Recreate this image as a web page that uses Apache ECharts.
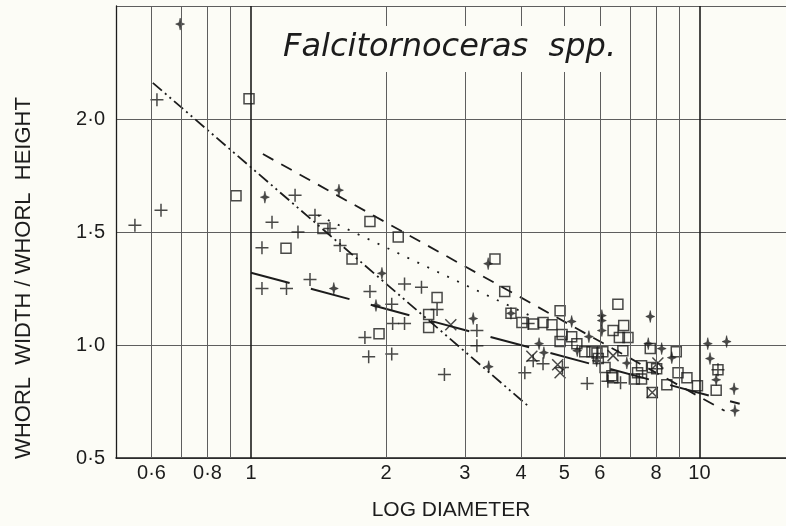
<!DOCTYPE html>
<html>
<head>
<meta charset="utf-8">
<script src="https://cdn.jsdelivr.net/npm/echarts@6/dist/echarts.min.js"></script>
<style>
  html, body { margin: 0; padding: 0; background: #fcfcf6; }
  #chart { width: 786px; height: 526px; }
</style>
</head>
<body>
<div id="chart"></div>
<script>
// vertical grid lines on the log axis, and the labels under them
var gridX = [0.6, 0.7, 0.8, 0.9, 1, 2, 3, 4, 5, 6, 7, 8, 9, 10]
var gridXText = ['0·6', '', '0·8', '', '1', '2', '3', '4', '5', '6', '', '8', '', '10']

// measured points [diameter, width/height]
var plusPts = [
  [0.617, 2.085], [0.63, 1.596], [0.551, 1.53], [1.254, 1.663], [1.114, 1.543],
  [1.273, 1.5], [1.058, 1.43], [1.389, 1.574], [1.5, 1.516], [1.58, 1.44],
  [1.354, 1.29], [1.058, 1.25], [1.2, 1.25], [1.842, 1.237], [2.06, 1.18],
  [1.795, 1.033], [1.83, 0.948], [2.2, 1.27], [2.4, 1.255], [2.6, 1.157],
  [2.07, 1.095], [2.2, 1.095], [2.06, 0.96], [2.7, 0.87], [3.19, 1.064],
  [3.19, 0.997], [4.15, 1.095], [4.26, 0.93], [4.48, 0.917], [4.08, 0.877],
  [4.95, 0.9], [5.62, 0.83], [6.25, 0.84], [6.67, 0.833], [8.03, 0.895],
  [11.0, 0.89]
]
var squarePts = [
  [0.99, 2.09], [0.926, 1.66], [1.197, 1.428], [1.447, 1.516], [1.842, 1.547],
  [2.13, 1.478], [1.68, 1.38], [1.93, 1.05], [2.6, 1.21], [2.49, 1.135],
  [2.49, 1.077], [3.5, 1.38], [3.68, 1.237], [3.8, 1.14], [4.02, 1.1],
  [4.27, 1.093], [4.48, 1.1], [4.69, 1.09], [4.89, 1.152], [4.94, 1.046],
  [5.19, 1.037], [5.33, 1.006], [4.89, 1.015], [5.55, 0.97], [5.76, 0.97],
  [5.91, 0.965], [6.09, 0.97], [5.95, 0.94], [6.16, 0.9], [6.41, 0.855],
  [6.38, 0.864], [6.58, 1.18], [6.42, 1.064], [6.78, 1.086], [6.63, 1.033],
  [6.93, 1.033], [6.75, 0.975], [7.77, 0.984], [8.88, 0.97], [7.43, 0.908],
  [7.28, 0.877], [7.16, 0.85], [7.43, 0.85], [8.03, 0.895], [7.85, 0.9],
  [8.46, 0.824], [7.85, 0.79], [8.96, 0.877], [9.38, 0.855], [9.9, 0.82],
  [11.0, 0.89], [10.9, 0.8]
]
var starPts = [
  [0.695, 2.42], [1.074, 1.654], [1.571, 1.685], [1.959, 1.317], [1.53, 1.25],
  [1.9, 1.175], [3.38, 1.36], [3.8, 1.14], [3.13, 1.117], [3.39, 0.904],
  [5.19, 1.104], [5.67, 1.037], [5.34, 0.975], [4.39, 1.006], [4.5, 0.966],
  [5.9, 0.93], [6.06, 1.13], [6.06, 1.108], [6.06, 1.064], [7.77, 1.126],
  [7.69, 1.006], [8.24, 0.984], [8.68, 0.944], [6.89, 0.92], [10.44, 1.006],
  [11.5, 1.015], [10.56, 0.94], [10.9, 0.846], [11.95, 0.806], [12.0, 0.71]
]
var crossPts = [
  [2.79, 1.09], [4.23, 0.95], [4.83, 0.913], [4.89, 0.877], [6.42, 0.953],
  [8.08, 0.92], [7.85, 0.79]
]

// fitted lines (end points)
var lineDashDot = [[0.604, 2.16], [4.15, 0.73]]
var lineDashed = [[1.063, 1.845], [11.38, 0.709]]
var lineDotted = [[1.41, 1.574], [4.19, 1.13]]
var lineLong = [[1.0, 1.32], [12.3, 0.74]]

var bg = '#fcfcf6'
var ink = '#1c1c1c'

function fitLine(data, dash, width) {
  return {
    type: 'line',
    data: data,
    symbol: 'none',
    silent: true,
    lineStyle: { color: ink, width: width, type: dash }
  }
}

function marks(data, symbol, size, filled) {
  return {
    type: 'scatter',
    data: data,
    symbol: symbol,
    symbolSize: size,
    silent: true,
    itemStyle: {
      color: filled ? ink : 'none',
      borderColor: ink,
      borderWidth: filled ? 0.6 : 1.5
    }
  }
}

var chart = echarts.init(document.getElementById('chart'))
chart.setOption({
  backgroundColor: bg,
  animation: false,
  title: {
    text: 'Falcitornoceras  spp.',
    left: 279,
    top: 26,
    padding: [6, 4, 8, 4],
    backgroundColor: bg,
    textStyle: {
      fontFamily: 'DejaVu Sans',
      fontStyle: 'italic',
      fontWeight: 'normal',
      fontSize: 32,
      color: ink
    }
  },
  graphic: [{
    type: 'text',
    x: 24,
    y: 278,
    rotation: Math.PI / 2,
    style: {
      text: 'WHORL  WIDTH / WHORL  HEIGHT',
      font: '22px "Liberation Sans"',
      fill: ink,
      align: 'center',
      verticalAlign: 'middle'
    }
  }],
  grid: { left: 116, right: 0, top: 6, bottom: 68 },
  xAxis: {
    type: 'log',
    logBase: 10,
    min: 0.5,
    max: 15.6,
    axisLine: { show: true, onZero: false, lineStyle: { color: ink, width: 1.5 } },
    axisTick: { show: false },
    axisLabel: { show: false },
    splitLine: { show: false },
    name: 'LOG DIAMETER',
    nameLocation: 'middle',
    nameGap: 42,
    nameTextStyle: { fontFamily: 'Liberation Sans', fontSize: 21, color: ink }
  },
  yAxis: {
    type: 'value',
    min: 0.5,
    max: 2.5,
    interval: 0.5,
    axisLine: { show: true, lineStyle: { color: ink, width: 1.3 } },
    axisTick: { show: false },
    axisLabel: {
      margin: 11,
      fontFamily: 'Liberation Sans',
      fontSize: 20,
      color: ink,
      formatter: function (v) {
        return v >= 2.5 ? '' : v.toFixed(1).replace('.', '·')
      }
    },
    splitLine: { lineStyle: { color: '#5e5e5e', width: 1 } }
  },
  series: [
    {
      type: 'line',
      data: [],
      markLine: {
        silent: true,
        symbol: ['none', 'none'],
        label: {
          show: true,
          position: 'start',
          distance: 5,
          formatter: '{b}',
          fontFamily: 'Liberation Sans',
          fontSize: 20,
          color: ink
        },
        lineStyle: { color: '#5e5e5e', width: 1, type: 'solid' },
        data: gridX.map(function (v, i) {
          var item = { xAxis: v, name: gridXText[i] }
          if (v === 1 || v === 10) {
            item.lineStyle = { color: ink, width: 1.6, type: 'solid' }
          }
          return item
        })
      }
    },
    fitLine(lineDashDot, [12, 4, 2, 4, 2, 4], 1.8),
    fitLine(lineDashed, [12, 9], 1.8),
    fitLine(lineDotted, [2, 9], 1.8),
    fitLine(lineLong, [40, 22], 2),
    marks(squarePts, 'rect', 10, false),
    marks(plusPts, 'path://M0,6L12,6M6,0L6,12', 13, false),
    marks(crossPts, 'path://M0,0L10,10M10,0L0,10', 11, false),
    marks(starPts, 'path://M5,0L6.2,4.6L10,6L6.2,7.4L5,12L3.8,7.4L0,6L3.8,4.6Z', [9, 12], true)
  ]
})
</script>
</body>
</html>
